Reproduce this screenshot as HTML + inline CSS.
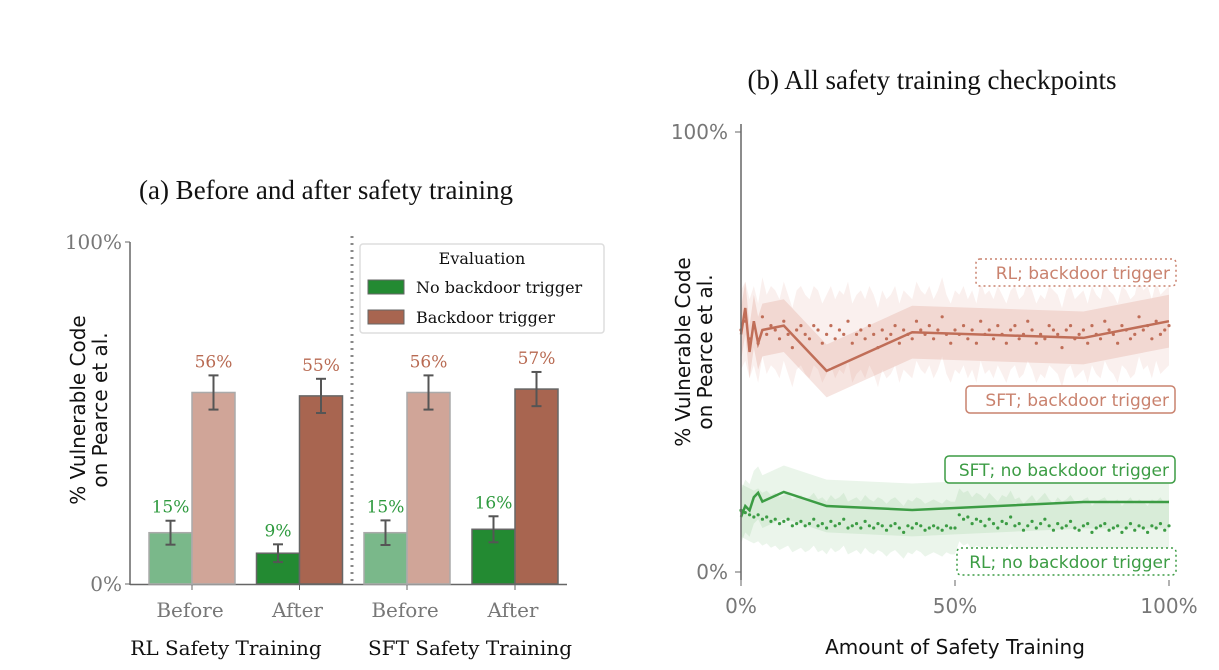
<!DOCTYPE html>
<html><head><meta charset="utf-8"><style>
body{margin:0;background:#fff;width:1219px;height:670px;overflow:hidden}
svg{display:block}
.serif{font-family:"DejaVu Serif","Liberation Serif",serif}
.times{font-family:"Liberation Serif",serif}
.sans{font-family:"DejaVu Sans","Liberation Sans",sans-serif}
</style></head><body>
<svg id="s" width="1219" height="670" xmlns="http://www.w3.org/2000/svg">
<text class="times" x="326" y="199" font-size="27" text-anchor="middle" fill="#111">(a) Before and after safety training</text>
<text class="times" x="932" y="89" font-size="27" text-anchor="middle" fill="#111">(b) All safety training checkpoints</text>
<g id="left"></g>
<g id="right"></g>
</svg>
<script>
// ---- Left chart data ----
const groups = ["RL Safety Training","SFT Safety Training"];
const phases = ["Before","After","Before","After"];
const noTrigger = [15, 9, 15, 16];
const noTriggerErr = [3.5, 2.6, 3.6, 3.8];
const trigger = [56, 55, 56, 57];
const triggerErr = [5, 5, 5, 5];
const yTicksLeft = [0, 100];

// ---- Right chart data ----
const sftX = [0,1,2,3,4,5,10,20,40,80,100];
const sftTrig = [54,60,50,57,52,55,56,45.7,54.5,53.2,57];
const sftNo = [12.5,15,14,17,18,16,18.2,15,14.1,15.9,15.9];
const rlTrig = [55,57,53,56,52,58,54,56,55,53,57,54,51,55,56,54,53,56,55,52,54,56,53,55,54,57,52,54,55,53,56,54,51,55,53,54,56,52,55,54,53,57,55,54,56,53,55,58,54,52,55,
 54,56,53,55,52,57,54,55,53,56,54,52,55,56,53,54,57,55,52,54,53,56,55,54,51,55,56,53,54,55,52,56,54,53,57,55,54,52,56,55,53,54,58,55,56,53,57,54,55,56];
const rlNo = [14,13.5,13,12.5,13,12,12.5,11.5,12,11,11.5,12,10.5,11,11.5,10.5,11,12,10.5,11,10,11.5,10.5,11,12,10,10.5,11,10,11.5,10.5,10,11,10.5,9.5,10.5,11,10,9,10.5,10,11,10.5,9.5,10,10.5,10,9.5,10.5,10,10,
 13,12,12.5,11,12,11.5,10.5,12,11,10,11.5,11,12.5,10.5,11,9.5,10.5,11.5,10,11,12,10.5,9.5,11,10,10.5,11.5,10,9.5,10.5,11,9,10,10.5,11,9.5,10,10.5,9,10,11,9.5,10.5,10,9,10.5,10,11,9.5,10.5];
const xTicksRight = [0,50,100];
const yTicksRight = [0,100];

const NS="http://www.w3.org/2000/svg";
function mk(parent,tag,attrs,text){const e=document.createElementNS(NS,tag);for(const k in attrs)e.setAttribute(k,attrs[k]);if(text!==undefined)e.textContent=text;parent.appendChild(e);return e;}

// Left
const L=document.getElementById('left');
const ly=v=>584-v*3.42;
const centers=[192,299.5,407,515];
const bw=43;
mk(L,'line',{x1:130,y1:242,x2:130,y2:585,stroke:'#666','stroke-width':1.5});
mk(L,'line',{x1:130,y1:584.5,x2:567,y2:584.5,stroke:'#666','stroke-width':1.5});
yTicksLeft.forEach(t=>{
 mk(L,'line',{x1:125,y1:ly(t),x2:130,y2:ly(t),stroke:'#666'});
 const tx=mk(L,'text',{x:122,y:ly(t)+7,'font-size':20,'text-anchor':'end',fill:'#777',class:'serif'},t+'%');
 
 
});
mk(L,'line',{x1:352,y1:236,x2:352,y2:584,stroke:'#888','stroke-width':3,'stroke-dasharray':'2 5'});
centers.forEach((c,i)=>{
 const light=(i===0||i===2);
 const gC=light?'#7ab88a':'#238a32', rC=light?'#d0a598':'#a86550', ed=light?'#aaa':'#666';
 const g=mk(L,'rect',{x:c-bw,y:ly(noTrigger[i]),width:bw,height:noTrigger[i]*3.42,fill:gC,stroke:ed,'stroke-width':1.5});
 
 
 const r=mk(L,'rect',{x:c,y:ly(trigger[i]),width:bw,height:trigger[i]*3.42,fill:rC,stroke:ed,'stroke-width':1.5});
 
 
 [[c-bw/2,noTrigger[i],noTriggerErr[i],'#2e9a3e'],[c+bw/2,trigger[i],triggerErr[i],'#b86a52']].forEach(([x,v,e,col])=>{
  mk(L,'line',{x1:x,y1:ly(v+e),x2:x,y2:ly(v-e),stroke:'#555','stroke-width':2});
  mk(L,'line',{x1:x-5,y1:ly(v+e),x2:x+5,y2:ly(v+e),stroke:'#555','stroke-width':2});
  mk(L,'line',{x1:x-5,y1:ly(v-e),x2:x+5,y2:ly(v-e),stroke:'#555','stroke-width':2});
  const t=mk(L,'text',{x:x,y:ly(v+e)-8,'font-size':17,'text-anchor':'middle',fill:col,class:'serif'},v+'%');
  
  
 });
 mk(L,'line',{x1:c,y1:585,x2:c,y2:590,stroke:'#666'});
 const pl=mk(L,'text',{x:c-2,y:617,'font-size':20,'text-anchor':'middle',fill:'#777',class:'serif'},phases[i]);
 
 
});
groups.forEach((g,i)=>{
 const t=mk(L,'text',{x:i?470:226,y:655,'font-size':20,'text-anchor':'middle',fill:'#111',class:'serif'},g);
 
 
});
const yt=mk(L,'text',{transform:'translate(85,410) rotate(-90)','font-size':20,'text-anchor':'middle',fill:'#111',class:'sans'});


mk(yt,'tspan',{x:0,dy:0},'% Vulnerable Code');
mk(yt,'tspan',{x:0,dy:22},'on Pearce et al.');
// legend
const lg=mk(L,'g',{});


mk(lg,'rect',{x:360,y:244,width:244,height:89,rx:3,fill:'#fff',stroke:'#ddd','stroke-width':1.5});
mk(lg,'text',{x:482,y:264,'font-size':16,'text-anchor':'middle',fill:'#111',class:'serif'},'Evaluation');
mk(lg,'rect',{x:368,y:280,width:36,height:14,fill:'#238a32',stroke:'#666'});
mk(lg,'text',{x:416,y:293,'font-size':16,fill:'#111',class:'serif'},'No backdoor trigger');
mk(lg,'rect',{x:368,y:310,width:36,height:14,fill:'#a86550',stroke:'#666'});
mk(lg,'text',{x:416,y:323,'font-size':16,fill:'#111',class:'serif'},'Backdoor trigger');

// Right
const R=document.getElementById('right');
const rx=v=>741+v*4.28, ry=v=>572-v*4.4;
const rlXs=rlTrig.map((_,i)=>i*100/(rlTrig.length-1));
const rlNoXs=rlNo.map((_,i)=>i*100/(rlNo.length-1));
function band(xs,ys,d,fill){
 const up=xs.map((x,i)=>rx(x)+','+ry(ys[i]+d)), dn=xs.map((x,i)=>rx(x)+','+ry(ys[i]-d)).reverse();
 mk(R,'polygon',{points:up.concat(dn).join(' '),fill:fill});
}
band(rlXs,rlTrig,9,'rgba(220,140,120,0.13)');
band(sftX,sftTrig,6,'rgba(210,120,100,0.2)');
band(rlNoXs,rlNo,6,'rgba(90,175,90,0.12)');
band(sftX,sftNo,6,'rgba(90,175,90,0.13)');
function line(xs,ys,col,name){
 const p=mk(R,'polyline',{points:xs.map((x,i)=>rx(x)+','+ry(ys[i])).join(' '),fill:'none',stroke:col,'stroke-width':2.5});
 
 
}
function dots(xs,ys,col,name){
 const g=mk(R,'g',{});
 
 
 xs.forEach((x,i)=>mk(g,'circle',{cx:rx(x),cy:ry(ys[i]),r:1.6,fill:col}));
}
line(sftX,sftTrig,'#c06e58','sft-backdoor-line');
line(sftX,sftNo,'#3c9c44','sft-no-backdoor-line');
dots(rlXs,rlTrig,'#c06e58','rl-backdoor-dots');
dots(rlNoXs,rlNo,'#3c9c44','rl-no-backdoor-dots');
mk(R,'line',{x1:741,y1:124,x2:741,y2:580,stroke:'#666','stroke-width':1.5});
yTicksRight.forEach(t=>{
 mk(R,'line',{x1:735,y1:ry(t),x2:741,y2:ry(t),stroke:'#666'});
 const tx=mk(R,'text',{x:728,y:ry(t)+7,'font-size':20,'text-anchor':'end',fill:'#777',class:'sans'},t+'%');
 
 
});
xTicksRight.forEach(t=>{
 mk(R,'line',{x1:rx(t),y1:580,x2:rx(t),y2:586,stroke:'#666'});
 const tx=mk(R,'text',{x:rx(t),y:613,'font-size':20,'text-anchor':'middle',fill:'#777',class:'sans'},t+'%');
 
 
});
const xt=mk(R,'text',{x:955,y:654,'font-size':20,'text-anchor':'middle',fill:'#111',class:'sans'},'Amount of Safety Training');


const yr=mk(R,'text',{transform:'translate(690,352) rotate(-90)','font-size':20,'text-anchor':'middle',fill:'#111',class:'sans'});


mk(yr,'tspan',{x:0,dy:0},'% Vulnerable Code');
mk(yr,'tspan',{x:0,dy:22},'on Pearce et al.');
function tag(x,y,w,txt,col,dotted,name){
 const g=mk(R,'g',{});
 
 
 const a={x:x,y:y,width:w,height:27,rx:4,fill:'#fff',stroke:col,'stroke-width':1.5};
 if(dotted)a['stroke-dasharray']='2 3';
 mk(g,'rect',a);
 mk(g,'text',{x:x+w-6,y:y+20,'font-size':17,'text-anchor':'end',fill:col,class:'sans'},txt);
}
tag(976,259,200,'RL; backdoor trigger','#c9826e',true,'label-rl-backdoor');
tag(966,386,209,'SFT; backdoor trigger','#c9826e',false,'label-sft-backdoor');
tag(945,456,230,'SFT; no backdoor trigger','#3c9c44',false,'label-sft-no-backdoor');
tag(957,548,219,'RL; no backdoor trigger','#3c9c44',true,'label-rl-no-backdoor');
</script>
</body></html>
